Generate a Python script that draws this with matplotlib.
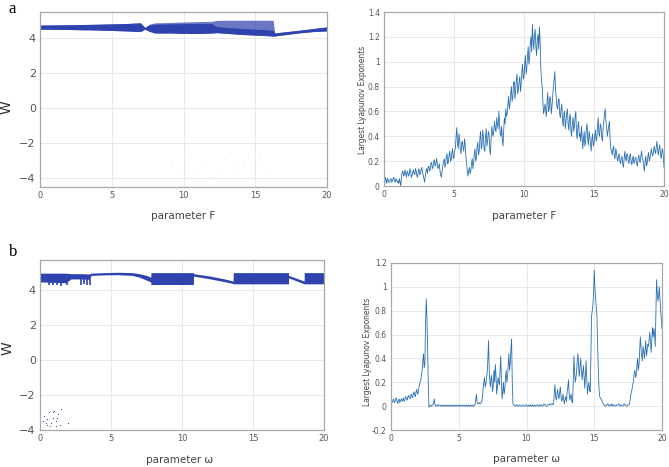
import matplotlib.pyplot as plt
import numpy as np

# ---- panel a : bifurcation vs F (band envelopes)
F_band = [0, 2, 4, 6, 7.0, 7.3, 7.6, 8.0, 9, 10, 11, 12.0, 12.3, 13, 14, 15, 16.0, 16.25, 16.35, 17, 18, 19, 20]
F_top = [4.75, 4.77, 4.80, 4.84, 4.88, 4.62, 4.80, 4.88, 4.90, 4.93, 4.95, 4.97, 5.02, 5.03, 5.03, 5.03, 5.03, 5.02, 4.30, 4.36, 4.45, 4.55, 4.65]
F_core = [4.75, 4.77, 4.80, 4.84, 4.88, 4.62, 4.74, 4.80, 4.82, 4.84, 4.84, 4.84, 4.66, 4.62, 4.56, 4.52, 4.48, 4.45, 4.30, 4.36, 4.45, 4.55, 4.65]
F_low = [4.52, 4.50, 4.47, 4.42, 4.38, 4.52, 4.40, 4.30, 4.30, 4.28, 4.27, 4.30, 4.32, 4.28, 4.22, 4.18, 4.14, 4.12, 4.13, 4.20, 4.30, 4.38, 4.42]
F_dots_x = [9.2, 9.8, 10.4, 11.0, 11.6, 12.2, 12.8, 13.4, 13.9, 14.5, 15.1, 15.6, 10.9, 12.5, 14.2, 15.3]
F_dots_y = [-3.1, -3.4, -2.8, -3.6, -3.0, -3.9, -2.9, -3.3, -3.7, -2.7, -3.2, -3.5, -4.0, -3.8, -3.0, -2.8]

# ---- panel a : largest Lyapunov exponent vs F, at F = 0, 0.1, ... 20
F_lyap = [
    0.04, 0.07, 0.02, 0.05, 0.03, 0.06, 0.04, 0.07, 0.03, 0.05,
    0.04, 0.06, 0.00, 0.11, 0.08, 0.13, 0.07, 0.11, 0.09, 0.12,
    0.08, 0.13, 0.09, 0.12, 0.07, 0.14, 0.10, 0.15, 0.09, 0.03,
    0.12, 0.10, 0.16, 0.13, 0.19, 0.15, 0.21, 0.17, 0.19, 0.15,
    0.12, 0.07, 0.16, 0.22, 0.17, 0.26, 0.19, 0.28, 0.21, 0.30,
    0.24, 0.31, 0.47, 0.30, 0.38, 0.26, 0.36, 0.28, 0.33, 0.18,
    0.08, 0.15, 0.12, 0.22, 0.18, 0.30, 0.22, 0.35, 0.28, 0.44,
    0.32, 0.40, 0.28, 0.46, 0.36, 0.42, 0.25, 0.48, 0.40, 0.52,
    0.44, 0.50, 0.60, 0.42, 0.48, 0.32, 0.55, 0.62, 0.58, 0.72,
    0.66, 0.80, 0.72, 0.84, 0.76, 0.90, 0.78, 0.88, 0.82, 0.98,
    0.88, 1.05, 0.95, 1.12, 1.02, 1.20, 1.30, 1.10, 1.26, 1.05,
    1.22, 1.28, 0.95, 0.80, 0.58, 0.66, 0.56, 0.75, 0.62, 0.70,
    0.64, 0.80, 0.92, 0.72, 0.62, 0.70, 0.55, 0.66, 0.48, 0.60,
    0.52, 0.62, 0.45, 0.58, 0.40, 0.55, 0.48, 0.60, 0.38, 0.52,
    0.42, 0.48, 0.30, 0.44, 0.36, 0.50, 0.33, 0.40, 0.28, 0.42,
    0.35, 0.45, 0.38, 0.55, 0.40, 0.48, 0.36, 0.52, 0.62, 0.48,
    0.44, 0.52, 0.30, 0.25, 0.32, 0.22, 0.28, 0.20, 0.26, 0.18,
    0.24, 0.15, 0.28, 0.20, 0.25, 0.18, 0.26, 0.17, 0.24, 0.20,
    0.22, 0.16, 0.25, 0.19, 0.28, 0.21, 0.12, 0.24, 0.18, 0.27,
    0.22, 0.30, 0.24, 0.32, 0.26, 0.36, 0.25, 0.33, 0.22, 0.30,
    0.15]
# in-between samples, F = 0.05, 0.15, ... 19.95
F_lyap_mid = [
    0.02, 0.05, 0.06, 0.03, 0.05, 0.03, 0.06, 0.04, 0.06, 0.03,
    0.02, 0.03, 0.08, 0.12, 0.09, 0.10, 0.12, 0.08, 0.14, 0.07,
    0.11, 0.10, 0.14, 0.08, 0.12, 0.09, 0.13, 0.11, 0.06, 0.08,
    0.14, 0.15, 0.12, 0.18, 0.14, 0.20, 0.16, 0.22, 0.14, 0.18,
    0.09, 0.12, 0.20, 0.15, 0.23, 0.18, 0.25, 0.20, 0.27, 0.22,
    0.28, 0.40, 0.34, 0.42, 0.30, 0.35, 0.30, 0.38, 0.24, 0.12,
    0.12, 0.10, 0.18, 0.14, 0.26, 0.20, 0.32, 0.25, 0.38, 0.30,
    0.45, 0.30, 0.40, 0.32, 0.44, 0.30, 0.38, 0.42, 0.46, 0.45,
    0.55, 0.46, 0.52, 0.40, 0.38, 0.45, 0.50, 0.56, 0.66, 0.62,
    0.74, 0.68, 0.82, 0.70, 0.86, 0.74, 0.84, 0.76, 0.92, 0.86,
    0.98, 0.90, 1.05, 0.98, 1.15, 1.08, 1.18, 1.22, 1.12, 1.18,
    1.10, 1.18, 0.85, 0.68, 0.62, 0.60, 0.68, 0.60, 0.72, 0.58,
    0.72, 0.85, 0.78, 0.64, 0.68, 0.58, 0.62, 0.52, 0.58, 0.46,
    0.58, 0.50, 0.55, 0.44, 0.50, 0.44, 0.56, 0.42, 0.48, 0.40,
    0.36, 0.40, 0.38, 0.32, 0.46, 0.38, 0.44, 0.34, 0.38, 0.32,
    0.40, 0.36, 0.48, 0.42, 0.50, 0.40, 0.46, 0.58, 0.52, 0.40,
    0.48, 0.38, 0.28, 0.30, 0.24, 0.30, 0.22, 0.24, 0.20, 0.22,
    0.18, 0.22, 0.22, 0.26, 0.20, 0.24, 0.20, 0.22, 0.18, 0.23,
    0.18, 0.22, 0.20, 0.24, 0.22, 0.16, 0.20, 0.16, 0.24, 0.20,
    0.26, 0.26, 0.28, 0.28, 0.32, 0.28, 0.30, 0.26, 0.28, 0.24]

# ---- panel b : bifurcation vs omega
w_band = [0, 1.8, 2.2, 2.9, 3.5, 3.6, 4.5, 5.5, 6.5, 7.0, 7.5, 7.8, 7.81, 10.8, 10.81, 12.0, 13.0, 13.6, 13.61, 17.5, 17.51, 18.6, 18.61, 20]
w_top = [4.95, 4.95, 4.92, 4.92, 4.90, 4.95, 4.98, 5.00, 4.98, 4.92, 4.82, 4.72, 4.98, 4.98, 4.92, 4.78, 4.62, 4.50, 4.98, 4.98, 4.82, 4.50, 4.98, 4.98]
w_low = [4.45, 4.40, 4.62, 4.62, 4.60, 4.82, 4.85, 4.86, 4.82, 4.72, 4.55, 4.45, 4.30, 4.30, 4.78, 4.62, 4.46, 4.36, 4.34, 4.34, 4.68, 4.34, 4.34, 4.34]
w_spike_x = [0.6, 0.9, 1.2, 1.5, 1.9, 2.9, 3.1, 3.3, 3.5]
w_spike_lo = [4.30, 4.25, 4.30, 4.22, 4.30, 4.30, 4.35, 4.28, 4.30]
w_dots_x = [0.3, 0.5, 0.6, 0.8, 0.9, 1.0, 1.1, 1.3, 1.4, 0.4, 0.7, 1.2, 0.2, 1.5, 2.0, 0.9, 1.1, 0.5]
w_dots_y = [-3.2, -3.4, -3.0, -3.6, -3.3, -2.9, -3.5, -3.1, -3.7, -3.6, -3.8, -3.3, -3.5, -2.8, -3.6, -3.0, -3.8, -3.7]

# ---- panel b : largest Lyapunov exponent vs omega, at omega = 0, 0.1, ... 20
w_lyap = [
    0.05, 0.03, 0.06, 0.04, 0.07, 0.02, 0.06, 0.04, 0.05, 0.07,
    0.04, 0.08, 0.05, 0.09, 0.06, 0.10, 0.07, 0.12, 0.08, 0.14,
    0.11, 0.18, 0.22, 0.30, 0.44, 0.36, 0.90, 0.50, -0.01, 0.01,
    0.00, 0.01, 0.06, 0.00, 0.01, 0.00, 0.01, 0.00, 0.00, 0.01,
    0.00, 0.00, 0.01, 0.00, 0.00, 0.01, 0.00, 0.00, 0.01, 0.00,
    0.00, 0.01, 0.00, 0.00, 0.01, 0.00, 0.00, 0.01, 0.00, 0.00,
    0.01, 0.00, 0.01, 0.10, 0.02, 0.03, 0.02, 0.04, 0.15, 0.24,
    0.18, 0.28, 0.55, 0.20, 0.26, 0.12, 0.30, 0.35, 0.10, 0.24,
    0.18, 0.42, 0.06, 0.20, 0.14, 0.30, 0.24, 0.44, 0.36, 0.56,
    0.02, 0.01, 0.00, 0.01, 0.00, 0.01, 0.00, 0.01, 0.00, 0.00,
    0.01, 0.00, 0.00, 0.01, 0.00, 0.00, 0.01, 0.00, 0.01, 0.00,
    0.00, 0.01, 0.00, 0.02, 0.01, 0.00, 0.01, 0.02, 0.01, 0.02,
    0.03, 0.18, 0.05, 0.14, 0.06, 0.16, 0.04, 0.10, 0.02, 0.08,
    0.12, 0.22, 0.05, 0.10, 0.03, 0.42, 0.20, 0.30, 0.44, 0.25,
    0.40, 0.22, 0.34, 0.15, 0.38, 0.10, 0.20, 0.12, 0.75, 0.85,
    1.14, 0.90, 0.75, 0.30, 0.08, 0.06, 0.04, 0.01, 0.00, 0.01,
    0.02, 0.00, 0.01, 0.02, 0.00, 0.01, 0.00, 0.01, 0.02, 0.00,
    0.01, 0.00, 0.02, 0.01, 0.00, 0.01, 0.02, 0.10, 0.15, 0.22,
    0.30, 0.26, 0.40, 0.34, 0.58, 0.42, 0.50, 0.40, 0.55, 0.46,
    0.50, 0.62, 0.45, 0.66, 0.65, 0.50, 1.06, 0.88, 1.00, 0.80,
    0.65]
# in-between samples, omega = 0.05, 0.15, ... 19.95
w_lyap_mid = [
    0.04, 0.05, 0.03, 0.06, 0.04, 0.05, 0.03, 0.06, 0.04, 0.05,
    0.07, 0.06, 0.08, 0.07, 0.09, 0.08, 0.11, 0.09, 0.12, 0.10,
    0.15, 0.20, 0.26, 0.38, 0.32, 0.70, 0.75, 0.20, 0.00, 0.00,
    0.01, 0.03, 0.01, 0.00, 0.01, 0.01, 0.00, 0.01, 0.00, 0.00,
    0.01, 0.00, 0.00, 0.01, 0.00, 0.00, 0.01, 0.00, 0.00, 0.01,
    0.00, 0.00, 0.01, 0.00, 0.00, 0.01, 0.00, 0.00, 0.01, 0.00,
    0.00, 0.01, 0.05, 0.04, 0.02, 0.02, 0.03, 0.08, 0.20, 0.16,
    0.24, 0.40, 0.30, 0.16, 0.22, 0.18, 0.20, 0.26, 0.16, 0.20,
    0.30, 0.20, 0.12, 0.10, 0.24, 0.20, 0.34, 0.30, 0.48, 0.20,
    0.01, 0.00, 0.01, 0.00, 0.01, 0.00, 0.00, 0.01, 0.00, 0.01,
    0.00, 0.01, 0.00, 0.00, 0.01, 0.00, 0.00, 0.01, 0.00, 0.01,
    0.01, 0.00, 0.01, 0.01, 0.00, 0.01, 0.01, 0.01, 0.02, 0.01,
    0.10, 0.08, 0.10, 0.08, 0.12, 0.08, 0.06, 0.05, 0.06, 0.04,
    0.16, 0.10, 0.08, 0.04, 0.20, 0.28, 0.24, 0.38, 0.32, 0.34,
    0.30, 0.28, 0.24, 0.26, 0.22, 0.16, 0.14, 0.40, 0.80, 0.95,
    1.00, 0.82, 0.50, 0.15, 0.07, 0.05, 0.02, 0.01, 0.00, 0.01,
    0.01, 0.01, 0.00, 0.01, 0.01, 0.00, 0.01, 0.01, 0.01, 0.01,
    0.00, 0.01, 0.01, 0.00, 0.01, 0.01, 0.05, 0.12, 0.18, 0.28,
    0.24, 0.34, 0.30, 0.46, 0.50, 0.38, 0.46, 0.48, 0.42, 0.52,
    0.56, 0.54, 0.55, 0.58, 0.60, 0.80, 0.95, 0.92, 0.90, 0.72]


def merge(main, mid):
    # interleave the two sample sets into one series on a 0.05 grid
    y = np.empty(len(main) + len(mid))
    y[0::2] = main
    y[1::2] = mid
    x = np.arange(len(y)) * 0.05
    return x, y


band_col = '#2f43ae'
line_col = '#2a6fb3'
spine_col = '#a8a8a8'
tick_col = '#555555'


def style(ax, labsize):
    for s in ax.spines.values():
        s.set_color(spine_col)
        s.set_linewidth(0.9)
    ax.grid(True, color='#e8e8e8', linewidth=0.7)
    ax.set_axisbelow(True)
    ax.tick_params(length=0, colors=tick_col, labelsize=labsize, pad=3)
    ax.set_xlim(0, 20)
    ax.set_xticks([0, 5, 10, 15, 20])


fig = plt.figure(figsize=(6.69, 4.67), dpi=100)

# top left
ax1 = fig.add_axes([40/669, 1-187/467, 287/669, 175/467])
style(ax1, 6)
ax1.fill_between(F_band, F_low, F_top, color=band_col, alpha=0.72, linewidth=0)
ax1.fill_between(F_band, F_low, F_core, color=band_col, linewidth=0)
ax1.scatter(F_dots_x, F_dots_y, s=0.6, color='#d8dcef', linewidths=0)
ax1.set_ylim(-4.5, 5.5)
ax1.set_yticks([-4, -2, 0, 2, 4])
ax1.tick_params(axis='y', labelsize=8)

# top right
ax2 = fig.add_axes([384/669, 1-186/467, 280/669, 174/467])
style(ax2, 5.5)
xa, ya = merge(F_lyap, F_lyap_mid)
ax2.plot(xa, ya, color=line_col, linewidth=0.6)
ax2.set_ylim(0, 1.4)
ax2.set_yticks([0, 0.2, 0.4, 0.6, 0.8, 1.0, 1.2, 1.4])
ax2.set_yticklabels(['0', '0.2', '0.4', '0.6', '0.8', '1', '1.2', '1.4'])

# bottom left
ax3 = fig.add_axes([40/669, 1-430/467, 284/669, 170/467])
style(ax3, 6)
ax3.fill_between(w_band, w_low, w_top, color=band_col, linewidth=0)
ax3.vlines(w_spike_x, w_spike_lo, 4.6, color=band_col, linewidth=1.2)
ax3.scatter(w_dots_x, w_dots_y, s=0.8, color='#4a55a0', linewidths=0)
ax3.set_ylim(-4, 5.7)
ax3.set_yticks([-4, -2, 0, 2, 4])
ax3.tick_params(axis='y', labelsize=8)

# bottom right
ax4 = fig.add_axes([391/669, 1-430/467, 271/669, 167/467])
style(ax4, 5.5)
xb, yb = merge(w_lyap, w_lyap_mid)
ax4.plot(xb, yb, color=line_col, linewidth=0.6)
ax4.set_ylim(-0.2, 1.2)
ax4.set_yticks([-0.2, 0, 0.2, 0.4, 0.6, 0.8, 1.0, 1.2])
ax4.set_yticklabels(['-0.2', '0', '0.2', '0.4', '0.6', '0.8', '1', '1.2'])

# labels
fig.text(12/669, 1-9/467, 'a', fontsize=12, family='Liberation Serif', ha='center', va='center')
fig.text(13/669, 1-252/467, 'b', fontsize=12, family='Liberation Serif', ha='center', va='center')
fig.text(183/669, 1-216/467, 'parameter F', fontsize=7.5, color='#444444', ha='center', va='center')
fig.text(524/669, 1-216/467, 'parameter F', fontsize=7.5, color='#444444', ha='center', va='center')
fig.text(180/669, 1-460/467, 'parameter ω', fontsize=7.5, color='#444444', ha='center', va='center')
fig.text(527/669, 1-459/467, 'parameter ω', fontsize=7.5, color='#444444', ha='center', va='center')
fig.text(7/669, 1-107/467, 'W', fontsize=10, color='#333333', rotation=90, ha='center', va='center')
fig.text(8/669, 1-348/467, 'W', fontsize=10, color='#333333', rotation=90, ha='center', va='center')
fig.text(362/669, 1-100/467, 'Largest Lyapunov Exponents', fontsize=6, color='#444444',
         rotation=90, ha='center', va='center', stretch='condensed')
fig.text(367/669, 1-352/467, 'Largest Lyapunov Exponents', fontsize=6, color='#444444',
         rotation=90, ha='center', va='center', stretch='condensed')

fig.savefig('out.png', dpi=100)
